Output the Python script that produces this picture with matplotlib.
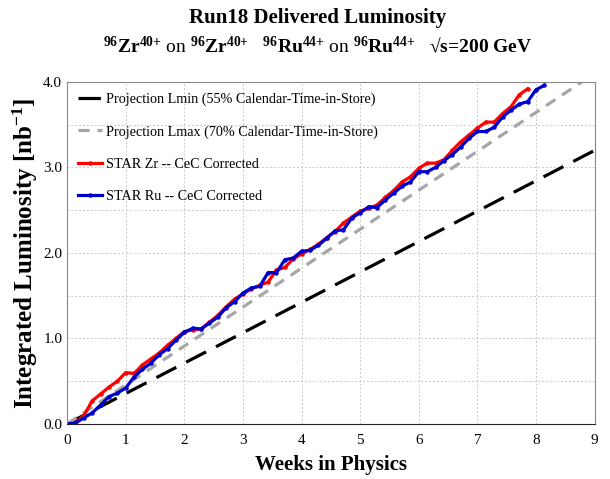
import numpy as np
import matplotlib
matplotlib.use("Agg")
import matplotlib.pyplot as plt
from matplotlib.ticker import MultipleLocator

plt.rcParams['font.family'] = ['Liberation Serif', 'DejaVu Serif']
plt.rcParams['mathtext.fontset'] = 'custom'
plt.rcParams['mathtext.rm'] = 'Liberation Serif'
plt.rcParams['mathtext.bf'] = 'Liberation Serif:bold'
plt.rcParams['mathtext.default'] = 'bf'

# projections (weeks, nb^-1)
proj_weeks = [0, 9]
lmin = [0, 3.2]
lmax = [0, 4.1]

# daily delivered luminosity, one point per day
zr_lumi = [0.00, 0.01, 0.10, 0.27, 0.35, 0.43, 0.50, 0.60, 0.59, 0.69,
           0.76, 0.83, 0.92, 1.00, 1.08, 1.10, 1.11, 1.19, 1.27, 1.37,
           1.46, 1.52, 1.58, 1.62, 1.66, 1.80, 1.83, 1.93, 1.99, 2.04,
           2.10, 2.18, 2.25, 2.35, 2.42, 2.49, 2.52, 2.56, 2.65, 2.73,
           2.83, 2.89, 2.99, 3.05, 3.05, 3.09, 3.20, 3.30, 3.38, 3.46,
           3.53, 3.53, 3.63, 3.71, 3.85, 3.92]
ru_lumi = [0.00, 0.01, 0.07, 0.13, 0.22, 0.32, 0.36, 0.42, 0.55, 0.64,
           0.71, 0.81, 0.88, 0.98, 1.07, 1.12, 1.11, 1.18, 1.25, 1.36,
           1.43, 1.53, 1.59, 1.61, 1.77, 1.77, 1.92, 1.94, 2.02, 2.03,
           2.09, 2.17, 2.26, 2.27, 2.41, 2.47, 2.54, 2.53, 2.62, 2.70,
           2.78, 2.83, 2.95, 2.95, 3.00, 3.08, 3.15, 3.24, 3.34, 3.42,
           3.42, 3.47, 3.59, 3.67, 3.74, 3.77, 3.91, 3.96]
zr_weeks = np.arange(len(zr_lumi)) / 7
ru_weeks = np.arange(len(ru_lumi)) / 7

fig = plt.figure(figsize=(6.1, 4.79), dpi=100)
ax = fig.add_axes([0.11, 0.115, 0.865, 0.714])

ax.plot(proj_weeks, lmin, color='black', lw=2.3, dashes=(7, 3.5),
        label='Projection Lmin (55% Calendar-Time-in-Store)')
ax.plot(proj_weeks, lmax, color='#a6a6a6', lw=2.3, dashes=(3.5, 2.5),
        label='Projection Lmax (70% Calendar-Time-in-Store)')
ax.plot(zr_weeks, zr_lumi, color='#ff0000', lw=2.3, marker='o', ms=2.2,
        label='STAR Zr -- CeC Corrected')
ax.plot(ru_weeks, ru_lumi, color='#0000cc', lw=2.3, marker='o', ms=2.2,
        label='STAR Ru -- CeC Corrected')

ax.set_xlim(0, 9)
ax.set_ylim(0, 4)
ax.xaxis.set_major_locator(MultipleLocator(1))
ax.yaxis.set_major_locator(MultipleLocator(1))
ax.yaxis.set_minor_locator(MultipleLocator(0.5))
ax.set_yticklabels(['%.1f' % v for v in ax.get_yticks()])
ax.tick_params(length=0, labelsize=11, which='both')
ax.tick_params(axis='x', pad=7)
ax.grid(True, which='major', axis='x', color='#c8c8c8', ls=(0, (2, 2)), lw=0.7)
ax.grid(True, which='both', axis='y', color='#c8c8c8', ls=(0, (2, 2)), lw=0.7)
ax.set_axisbelow(True)
for s in ['left', 'top', 'right']:
    ax.spines[s].set_color('#888888')
ax.spines['bottom'].set_color('#222222')

ax.set_xlabel('Weeks in Physics', fontsize=15, fontweight='bold', labelpad=6)
ax.set_ylabel('Integrated Luminosity [nb$^{-1}$]', fontsize=18, fontweight='bold',
              labelpad=2)

leg = ax.legend(loc='upper left', frameon=False, fontsize=10.2, handlelength=1.7,
                handletextpad=0.3, labelspacing=1.35, borderaxespad=0.45,
                borderpad=0.3)

fig.text(0.52, 0.962, 'Run18 Delivered Luminosity', ha='center', va='center',
         fontsize=15, fontweight='bold')
fig.text(0.52, 0.903,
         r'$^{96}$Zr$^{40{+}}$ $\mathrm{on}$ $^{96}$Zr$^{40{+}}$   '
         r'$^{96}$Ru$^{44{+}}$ $\mathrm{on}$ $^{96}$Ru$^{44{+}}$   √s=200 GeV',
         ha='center', va='center', fontsize=14, fontweight='bold')

fig.savefig('out.png', dpi=100)
